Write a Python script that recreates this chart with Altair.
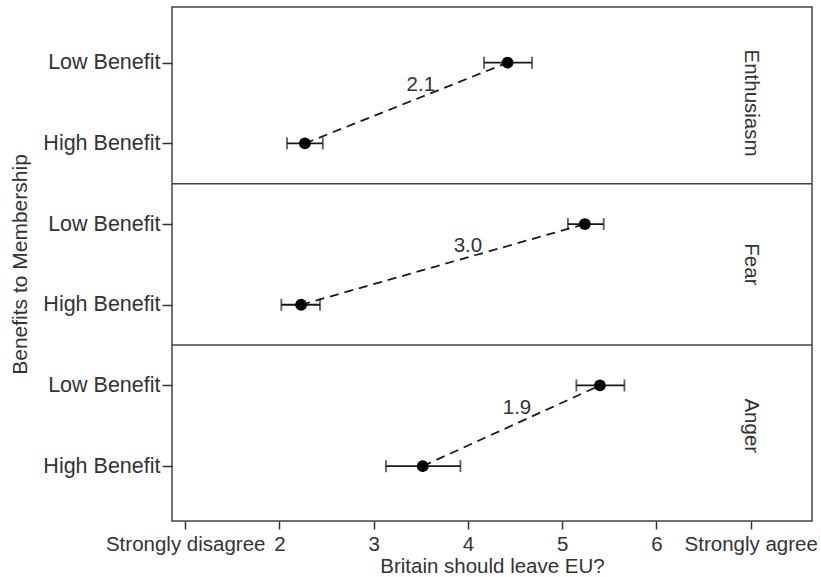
import altair as alt
import pandas as pd

# ---- data ----
emotions = ["Enthusiasm", "Fear", "Anger"]
categories = ["High Benefit", "Low Benefit"]
low_mean = [4.42, 5.24, 5.40]
low_lo = [4.17, 5.06, 5.15]
low_hi = [4.68, 5.44, 5.66]
high_mean = [2.27, 2.23, 3.52]
high_lo = [2.08, 2.02, 3.13]
high_hi = [2.46, 2.43, 3.92]
diff_labels = ["2.1", "3.0", "1.9"]
diff_label_x = [3.50, 4.00, 4.52]
x_ticks = [1, 2, 3, 4, 5, 6, 7]
x_tick_labels = ["Strongly disagree", "2", "3", "4", "5", "6", "Strongly agree"]

FONT = "Liberation Sans"
TXT = "#333333"
FS = 20.5
n = len(emotions)

# each emotion panel holds two category rows: High (even slot) and Low (odd slot)
rows = []
for i, e in enumerate(emotions):
    slot = 2 * (n - 1 - i)
    rows.append(dict(emotion=e, cat=categories[0], yv=slot, mean=high_mean[i], lo=high_lo[i], hi=high_hi[i]))
    rows.append(dict(emotion=e, cat=categories[1], yv=slot + 1, mean=low_mean[i], lo=low_lo[i], hi=low_hi[i]))
df = pd.DataFrame(rows)

lab = pd.DataFrame(dict(
    emotion=emotions,
    xm=diff_label_x,
    ym=[2 * (n - 1 - i) + 0.5 for i in range(n)],
    text=diff_labels,
))
dividers = pd.DataFrame(dict(yd=[2 * k + 1.5 for k in range(n - 1)]))

x_expr = " : ".join(
    f"datum.value == {v} ? '{t}'" for v, t in zip(x_ticks, x_tick_labels)
) + " : ''"
y_expr = f"datum.value % 2 == 1 ? '{categories[1]}' : '{categories[0]}'"

xs = alt.Scale(domain=[0.86, 7.65], nice=False, zero=False)
ys = alt.Scale(domain=[-0.68, 2 * n - 1 + 0.69], nice=False, zero=False)

xaxis = alt.Axis(values=x_ticks, labelExpr=x_expr, title="Britain should leave EU?",
                 grid=False, domain=False, tickSize=8, tickWidth=1.5, tickColor=TXT,
                 labelFontSize=FS, titleFontSize=FS, labelColor=TXT, titleColor=TXT,
                 labelFont=FONT, titleFont=FONT, labelPadding=5, titlePadding=2,
                 titleFontWeight="normal", labelFlush=False, labelOverlap=False)
yaxis = alt.Axis(values=list(range(2 * n)), labelExpr=y_expr, title="Benefits to Membership",
                 grid=False, domain=False, tickSize=10, tickWidth=1.5, tickColor=TXT,
                 labelFontSize=21.5, titleFontSize=21, labelColor=TXT, titleColor=TXT,
                 labelFont=FONT, titleFont=FONT, labelPadding=2, titlePadding=12,
                 titleFontWeight="normal")


def X(f):
    return alt.X(f, scale=xs, axis=xaxis)


def Y(f):
    return alt.Y(f, scale=ys, axis=yaxis)


base = alt.Chart(df)
DARK = "#1a1a1a"

div = alt.Chart(dividers).mark_rule(color="#444", strokeWidth=1.5).encode(y=Y("yd:Q"))
line = base.mark_line(color=DARK, strokeDash=[9, 6], strokeWidth=1.8).encode(
    x=X("mean:Q"), y=Y("yv:Q"), detail="emotion:N", order="yv:Q")
bar = base.mark_rule(color=DARK, strokeWidth=1.8).encode(
    x=X("lo:Q"), x2="hi:Q", y=Y("yv:Q"))
cap_lo = base.mark_tick(color=DARK, orient="vertical", size=12, thickness=1.8).encode(
    x=X("lo:Q"), y=Y("yv:Q"))
cap_hi = base.mark_tick(color=DARK, orient="vertical", size=12, thickness=1.8).encode(
    x=X("hi:Q"), y=Y("yv:Q"))
pts = base.mark_circle(color="black", opacity=1, size=140).encode(
    x=X("mean:Q"), y=Y("yv:Q"))
txt = alt.Chart(lab).mark_text(
    font=FONT, fontSize=FS, color=TXT, dy=-18).encode(
    x=X("xm:Q"), y=Y("ym:Q"), text="text:N")
head = alt.Chart(lab).mark_text(
    font=FONT, fontSize=FS, color=TXT, angle=90, baseline="middle").encode(
    x=alt.X(datum=7.0, scale=xs, axis=xaxis), y=Y("ym:Q"), text="emotion:N")

chart = alt.layer(div, line, bar, cap_lo, cap_hi, pts, txt, head).properties(
    width=640, height=514,
    padding={"left": 9, "top": 7, "right": 2, "bottom": 0},
    background="white",
).configure_view(stroke="#444", strokeWidth=1.5)

chart.save("out.html", embed_options={"renderer": "svg", "actions": False})
